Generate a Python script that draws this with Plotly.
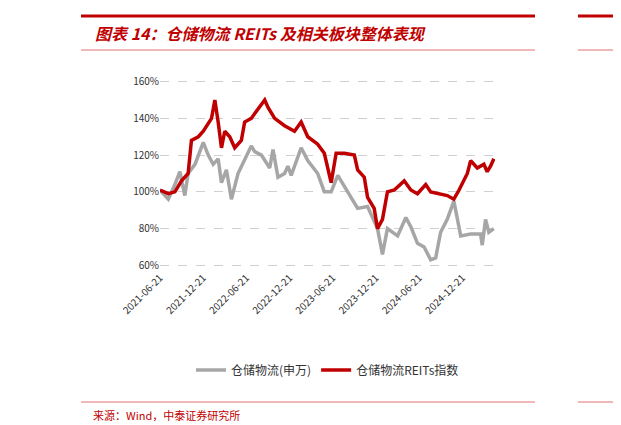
import plotly.graph_objects as go

gray_dates = [
    "2021-06-21", "2021-07-26", "2021-08-23", "2021-09-13", "2021-10-04", "2021-10-18",
    "2021-11-16", "2021-12-21", "2022-01-11", "2022-02-01", "2022-02-22", "2022-03-08",
    "2022-03-29", "2022-04-19", "2022-05-17", "2022-06-14", "2022-07-12", "2022-07-26",
    "2022-08-24", "2022-09-28", "2022-10-12", "2022-11-02", "2022-11-30", "2022-12-14",
    "2022-12-28", "2023-02-08", "2023-03-08", "2023-04-19", "2023-05-17", "2023-06-15",
    "2023-07-13", "2023-08-24", "2023-10-05", "2023-11-16", "2023-12-28", "2024-01-18",
    "2024-02-08", "2024-03-22", "2024-04-26", "2024-05-17", "2024-06-14", "2024-07-12",
    "2024-08-09", "2024-08-30", "2024-09-20", "2024-10-18", "2024-11-15", "2024-12-14",
    "2025-01-25", "2025-03-08", "2025-03-15", "2025-03-29", "2025-04-12", "2025-05-03",
]
gray_values = [
    101, 96, 104, 111, 98, 110, 115, 127, 120, 115, 118, 105, 112, 96, 110, 117, 125, 122,
    120, 113, 123, 108, 110, 114, 109, 124, 117, 110, 100, 100, 109, 100, 91, 92, 80, 66,
    80, 76, 86, 81, 72, 70, 63, 64, 78, 85, 95, 76, 77, 77, 71, 85, 78, 80,
]

red_dates = [
    "2021-06-21", "2021-07-26", "2021-08-23", "2021-09-20", "2021-10-18", "2021-11-01",
    "2021-11-30", "2021-12-21", "2022-01-25", "2022-02-08", "2022-02-22", "2022-03-08",
    "2022-03-22", "2022-04-12", "2022-05-03", "2022-05-31", "2022-06-14", "2022-07-12",
    "2022-08-09", "2022-09-07", "2022-09-21", "2022-10-19", "2022-11-30", "2023-01-11",
    "2023-02-08", "2023-03-08", "2023-04-19", "2023-05-17", "2023-06-15", "2023-07-06",
    "2023-08-10", "2023-09-21", "2023-10-05", "2023-11-02", "2023-11-16", "2023-12-14",
    "2023-12-28", "2024-01-18", "2024-02-08", "2024-03-08", "2024-04-19", "2024-05-17",
    "2024-06-14", "2024-07-19", "2024-08-09", "2024-09-20", "2024-10-18", "2024-11-15",
    "2024-12-07", "2025-01-11", "2025-01-25", "2025-02-22", "2025-03-22", "2025-04-05",
    "2025-04-19", "2025-05-03",
]
red_values = [
    101, 99, 100, 106, 110, 128, 130, 133, 140, 150, 138, 124, 133, 130, 124, 128, 138, 140,
    145, 150, 146, 140, 136, 133, 138, 130, 126, 121, 105, 121, 121, 120, 112, 108, 97, 91,
    80, 85, 100, 101, 106, 101, 99, 104, 100, 99, 98, 96, 101, 110, 117, 113, 115, 111, 114, 118,
]

tick_dates = ["2021-06-21", "2021-12-21", "2022-06-21", "2022-12-21",
              "2023-06-21", "2023-12-21", "2024-06-21", "2024-12-21"]

RED = "#C00000"
font = "Noto Sans CJK SC"

# plot area in pixels: x 152..487, y 70..261
PL, PR, PT, PB = 152, 487, 70, 261


def px_x(px):
    return (px - PL) / (PR - PL)


def px_y(py):
    return (PB - py) / (PB - PT)


fig = go.Figure()
fig.add_trace(go.Scatter(x=gray_dates, y=gray_values, mode="lines", name="仓储物流(申万)",
                         line=dict(color="#A6A6A6", width=3.5)))
fig.add_trace(go.Scatter(x=red_dates, y=red_values, mode="lines", name="仓储物流REITs指数",
                         line=dict(color=RED, width=3.5)))

fig.update_xaxes(range=["2021-06-21", "2025-05-08"], tickvals=tick_dates, ticktext=tick_dates,
                 tickangle=-45, showgrid=False, showline=False, ticks="",
                 tickfont=dict(size=10, color="#333"))
fig.update_yaxes(range=[58, 162], tickvals=[60, 80, 100, 120, 140, 160],
                 ticktext=["60%", "80%", "100%", "120%", "140%", "160%"],
                 showgrid=True, gridcolor="#D0D0D0", griddash="dash", zeroline=False,
                 tickfont=dict(size=10, color="#333"))


def hline(x0, x1, y, color, width):
    return dict(type="line", xref="paper", yref="paper", x0=px_x(x0), x1=px_x(x1),
                y0=px_y(y), y1=px_y(y), line=dict(color=color, width=width))


shapes = [
    hline(73, 527, 8, RED, 3),
    hline(570, 621, 8, RED, 3),
    hline(73, 527, 42, "#E07070", 1),
    hline(570, 621, 42, "#E07070", 1),
    hline(73, 527, 394, "#E07070", 1),
    hline(570, 621, 394, "#E07070", 1),
]

annotations = [
    dict(text="<b><i>图表 14：仓储物流 REITs 及相关板块整体表现</i></b>", xref="paper", yref="paper",
         x=px_x(85), y=px_y(25), xanchor="left", yanchor="middle", showarrow=False,
         font=dict(family=font, size=16, color=RED)),
    dict(text="来源：Wind，中泰证券研究所", xref="paper", yref="paper",
         x=px_x(83), y=px_y(407), xanchor="left", yanchor="middle", showarrow=False,
         font=dict(family=font, size=11, color=RED)),
]

fig.update_layout(
    width=621, height=425, paper_bgcolor="white", plot_bgcolor="white",
    margin=dict(l=PL, r=621 - PR, t=PT, b=425 - PB, autoexpand=False),
    font=dict(family=font, color="#333"),
    showlegend=True,
    legend=dict(orientation="h", x=0.5, xanchor="center", y=1 - 362 / 425, yref="container",
                yanchor="middle", font=dict(size=12, color="#333")),
    shapes=shapes, annotations=annotations,
)
fig.write_html("out.html")
